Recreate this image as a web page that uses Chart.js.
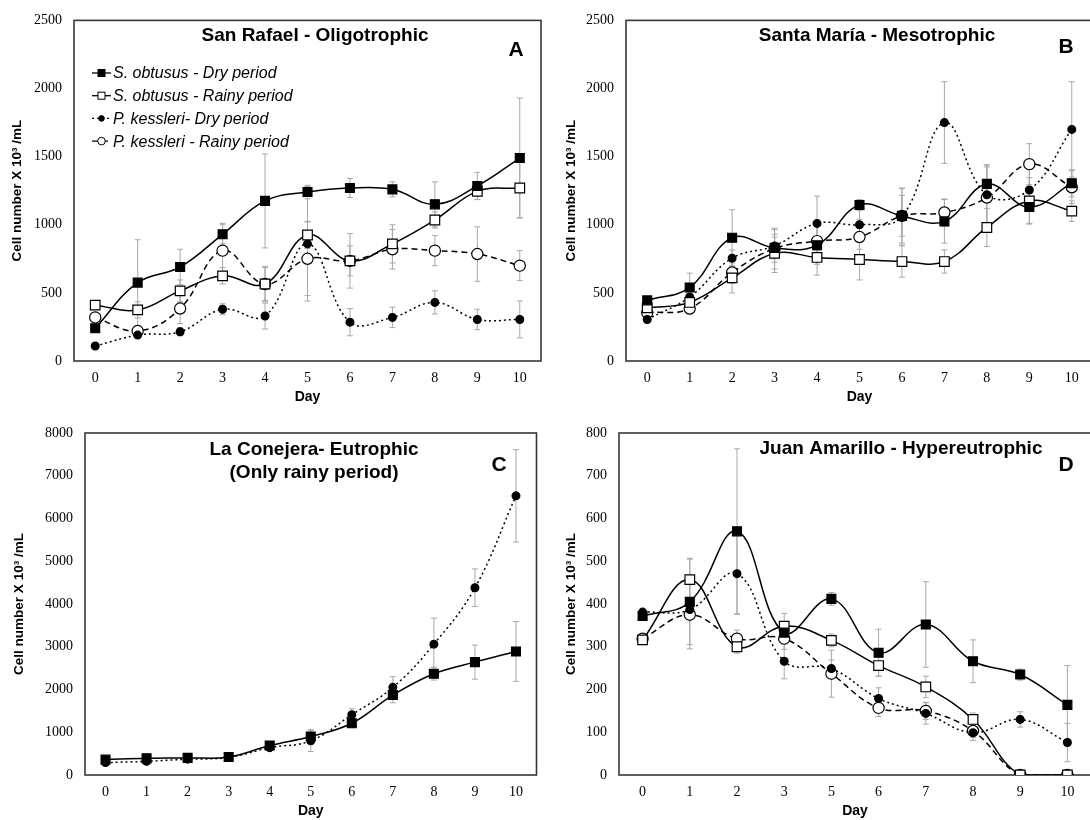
<!DOCTYPE html>
<html>
<head>
<meta charset="utf-8">
<script src="https://cdn.jsdelivr.net/npm/chart.js@4.4.0/dist/chart.umd.min.js"></script>
<style>
  html, body { margin: 0; padding: 0; width: 1090px; height: 820px; overflow: hidden; background: #fff; }
  canvas { position: absolute; }
</style>
</head>
<body>
<canvas id="chartA" width="549" height="410" style="left:0px;top:0px"></canvas>
<canvas id="chartB" width="549" height="410" style="left:552px;top:0px"></canvas>
<canvas id="chartC" width="544" height="410" style="left:0px;top:410px"></canvas>
<canvas id="chartD" width="554" height="410" style="left:545px;top:410px"></canvas>
<script>
// days sampled
const days = ['0', '1', '2', '3', '4', '5', '6', '7', '8', '9', '10'];
const daysD = ['0', '1', '2', '3', '5', '6', '7', '8', '9', '10'];

const seriesNames = ['S. obtusus - Dry period', 'S. obtusus - Rainy period', 'P. kessleri- Dry period', 'P. kessleri - Rainy period'];

// A - San Rafael
const aSobtDry = [240, 575, 690, 930, 1175, 1240, 1270, 1260, 1150, 1285, 1490];
const aSobtRainy = [410, 375, 515, 625, 565, 925, 735, 860, 1035, 1245, 1270];
const aPkesDry = [110, 190, 215, 380, 330, 860, 285, 320, 430, 305, 305];
const aPkesRainy = [320, 220, 385, 810, 565, 750, 735, 820, 810, 785, 700];
const aSobtDryErr = [20, 315, 130, 70, 345, 50, 70, 55, 165, 100, 440];
const aSobtRainyErr = [30, 60, 80, 60, 130, 100, 110, 140, 60, 60, 220];
const aPkesDryErr = [15, 20, 30, 40, 95, 420, 100, 75, 85, 75, 135];
const aPkesRainyErr = [25, 30, 110, 200, 120, 270, 200, 145, 110, 200, 110];

// B - Santa Maria
const bSobtDry = [445, 540, 905, 830, 850, 1145, 1065, 1025, 1300, 1130, 1305];
const bSobtRainy = [390, 430, 610, 790, 760, 745, 730, 730, 980, 1175, 1100];
const bPkesDry = [305, 470, 755, 845, 1010, 1000, 1060, 1750, 1220, 1255, 1700];
const bPkesRainy = [355, 385, 650, 825, 880, 910, 1065, 1090, 1200, 1445, 1275];
const bSobtDryErr = [20, 105, 205, 80, 140, 40, 200, 160, 125, 120, 100];
const bSobtRainyErr = [20, 40, 110, 140, 130, 150, 115, 85, 140, 170, 75];
const bPkesDryErr = [15, 40, 60, 120, 200, 180, 210, 300, 220, 150, 350];
const bPkesRainyErr = [20, 40, 80, 150, 120, 130, 150, 100, 240, 150, 120];

// C - La Conejera
const cSobt = [360, 390, 400, 420, 690, 900, 1210, 1870, 2370, 2640, 2890];
const cPkes = [290, 320, 370, 410, 640, 800, 1410, 2050, 3060, 4380, 6530];
const cSobtErr = [30, 40, 40, 40, 60, 160, 100, 180, 150, 400, 700];
const cPkesErr = [20, 30, 60, 40, 60, 250, 140, 250, 610, 440, 1080];

// D - Juan Amarillo
const dSobtDry = [372, 405, 570, 333, 412, 286, 352, 266, 235, 164];
const dSobtRainy = [316, 457, 300, 348, 315, 256, 206, 130, 0, 0];
const dPkesDry = [381, 387, 471, 266, 249, 179, 144, 99, 130, 76];
const dPkesRainy = [319, 375, 319, 319, 237, 157, 150, 103, 0, 0];
const dSobtDryErr = [5, 100, 193, 20, 15, 55, 100, 50, 13, 92];
const dSobtRainyErr = [5, 50, 15, 30, 15, 25, 25, 15, 0, 0];
const dPkesDryErr = [5, 20, 95, 41, 20, 25, 25, 18, 18, 45];
const dPkesRainyErr = [5, 80, 20, 25, 55, 20, 20, 15, 0, 0];

const styles = [
  { borderDash: [], pointStyle: 'rect', pointRadius: 6.3, pointBackgroundColor: '#000' },
  { borderDash: [], pointStyle: 'rect', pointRadius: 6.8, pointBackgroundColor: '#fff' },
  { borderDash: [2, 3], pointStyle: 'circle', pointRadius: 3.9, pointBackgroundColor: '#000' },
  { borderDash: [6, 4], pointStyle: 'circle', pointRadius: 5.6, pointBackgroundColor: '#fff' },
];

function makeSet(name, values, errors, styleIdx) {
  return Object.assign({
    label: name,
    data: values,
    errors: errors,
    borderColor: '#000',
    borderWidth: 1.5,
    pointBorderColor: '#000',
    pointBorderWidth: 1.2,
    tension: 0.4,
    fill: false,
  }, styles[styleIdx]);
}

const frame = {
  id: 'frame',
  beforeDatasetsDraw(chart) {
    const a = chart.chartArea;
    const ctx = chart.ctx;
    ctx.save();
    ctx.strokeStyle = '#383838';
    ctx.lineWidth = 1.6;
    ctx.strokeRect(a.left, a.top, a.right - a.left, a.bottom - a.top);
    ctx.restore();
  }
};

const errorBars = {
  id: 'errorBars',
  beforeDatasetsDraw(chart) {
    const ctx = chart.ctx;
    const y = chart.scales.y;
    ctx.save();
    ctx.strokeStyle = '#a8a8a8';
    ctx.lineWidth = 1;
    chart.data.datasets.forEach((ds, i) => {
      const meta = chart.getDatasetMeta(i);
      meta.data.forEach((pt, j) => {
        const e = ds.errors[j];
        if (!e) return;
        const top = y.getPixelForValue(ds.data[j] + e);
        const bot = y.getPixelForValue(Math.max(0, ds.data[j] - e));
        ctx.beginPath();
        ctx.moveTo(pt.x, top); ctx.lineTo(pt.x, bot);
        ctx.moveTo(pt.x - 3, top); ctx.lineTo(pt.x + 3, top);
        ctx.moveTo(pt.x - 3, bot); ctx.lineTo(pt.x + 3, bot);
        ctx.stroke();
      });
    });
    ctx.restore();
  }
};

const panelText = {
  id: 'panelText',
  afterDraw(chart, args, opts) {
    const ctx = chart.ctx;
    const a = chart.chartArea;
    ctx.save();
    ctx.fillStyle = '#000';
    ctx.textAlign = 'center';
    ctx.textBaseline = 'middle';
    ctx.font = 'bold 19px "Liberation Sans", Arial, sans-serif';
    opts.title.forEach((t, k) => ctx.fillText(t, opts.titleX, opts.titleY + k * 23));
    ctx.font = 'bold 21px "Liberation Sans", Arial, sans-serif';
    ctx.fillText(opts.letter, opts.letterX, opts.letterY);
    // axis titles
    ctx.font = 'bold 14px "Liberation Sans", Arial, sans-serif';
    ctx.fillText('Day', (a.left + a.right) / 2, a.bottom + 36);
    ctx.save();
    ctx.translate(opts.yTitleX, (a.top + a.bottom) / 2);
    ctx.rotate(-Math.PI / 2);
    ctx.font = 'bold 13.5px "Liberation Sans", Arial, sans-serif';
    ctx.fillText('Cell number X 10\u00b3 /mL', 0, 0);
    ctx.restore();
    if (opts.legend) {
      ctx.textAlign = 'left';
      ctx.font = 'italic 16px "Liberation Sans", Arial, sans-serif';
      chart.data.datasets.forEach((ds, i) => {
        const yy = 73 + i * 22.7;
        ctx.save();
        ctx.strokeStyle = '#000';
        ctx.lineWidth = 1.3;
        ctx.setLineDash(ds.borderDash);
        ctx.beginPath();
        ctx.moveTo(92, yy); ctx.lineTo(111, yy);
        ctx.stroke();
        ctx.setLineDash([]);
        ctx.fillStyle = ds.pointBackgroundColor;
        ctx.lineWidth = 1;
        if (ds.pointStyle === 'rect') {
          ctx.fillRect(98, yy - 3.5, 7, 7);
          ctx.strokeRect(98, yy - 3.5, 7, 7);
        } else {
          ctx.beginPath();
          ctx.arc(101.5, yy, ds.pointBackgroundColor === '#000' ? 2.8 : 3.8, 0, Math.PI * 2);
          ctx.fill(); ctx.stroke();
        }
        ctx.restore();
        ctx.fillText(ds.label, 113, yy + 1);
      });
    }
    ctx.restore();
  }
};

function buildChart(id, labels, datasets, cfg) {
  new Chart(document.getElementById(id), {
    type: 'line',
    data: { labels: labels, datasets: datasets },
    options: {
      responsive: false,
      animation: false,
      layout: { padding: { top: cfg.padTop, right: 2, left: 0, bottom: 0 } },
      plugins: {
        legend: { display: false },
        tooltip: { enabled: false },
        panelText: cfg.text,
      },
      scales: {
        x: {
          type: 'category',
          offset: true,
          grid: { display: false, drawTicks: false },
          border: { display: false },
          ticks: { color: '#000', padding: 9, font: { family: '"Liberation Serif", "Times New Roman", serif', size: 14 } },
          afterFit: s => { s.height = cfg.xh; },
        },
        y: {
          min: 0,
          max: cfg.ymax,
          grid: { display: false, drawTicks: false },
          border: { display: false },
          ticks: {
            stepSize: cfg.step, color: '#000', padding: 12,
            font: { family: '"Liberation Serif", "Times New Roman", serif', size: 14 },
            callback: v => String(v),
          },
          afterFit: s => { s.width = cfg.yw; },
        },
      },
    },
    plugins: [frame, errorBars, panelText],
  });
}

buildChart('chartA', days, [
  makeSet(seriesNames[0], aSobtDry, aSobtDryErr, 0),
  makeSet(seriesNames[1], aSobtRainy, aSobtRainyErr, 1),
  makeSet(seriesNames[2], aPkesDry, aPkesDryErr, 2),
  makeSet(seriesNames[3], aPkesRainy, aPkesRainyErr, 3),
], { padTop: 18, xh: 49, yw: 74, ymax: 2500, step: 500,
     text: { title: ['San Rafael - Oligotrophic'], titleX: 315, titleY: 36, letter: 'A', letterX: 516, letterY: 50, yTitleX: 17, legend: true } });

buildChart('chartB', days, [
  makeSet(seriesNames[0], bSobtDry, bSobtDryErr, 0),
  makeSet(seriesNames[1], bSobtRainy, bSobtRainyErr, 1),
  makeSet(seriesNames[2], bPkesDry, bPkesDryErr, 2),
  makeSet(seriesNames[3], bPkesRainy, bPkesRainyErr, 3),
], { padTop: 18, xh: 49, yw: 74, ymax: 2500, step: 500,
     text: { title: ['Santa María - Mesotrophic'], titleX: 325, titleY: 36, letter: 'B', letterX: 514, letterY: 47, yTitleX: 19, legend: false } });

buildChart('chartC', days, [
  makeSet('S. obtusus', cSobt, cSobtErr, 0),
  makeSet('P. kessleri', cPkes, cPkesErr, 2),
], { padTop: 23, xh: 45, yw: 85, ymax: 8000, step: 1000,
     text: { title: ['La Conejera- Eutrophic', '(Only rainy period)'], titleX: 314, titleY: 40, letter: 'C', letterX: 499, letterY: 55, yTitleX: 19, legend: false } });

buildChart('chartD', daysD, [
  makeSet(seriesNames[0], dSobtDry, dSobtDryErr, 0),
  makeSet(seriesNames[1], dSobtRainy, dSobtRainyErr, 1),
  makeSet(seriesNames[2], dPkesDry, dPkesDryErr, 2),
  makeSet(seriesNames[3], dPkesRainy, dPkesRainyErr, 3),
], { padTop: 23, xh: 45, yw: 74, ymax: 800, step: 100,
     text: { title: ['Juan Amarillo - Hypereutrophic'], titleX: 356, titleY: 39, letter: 'D', letterX: 521, letterY: 55, yTitleX: 26, legend: false } });
</script>
</body>
</html>
